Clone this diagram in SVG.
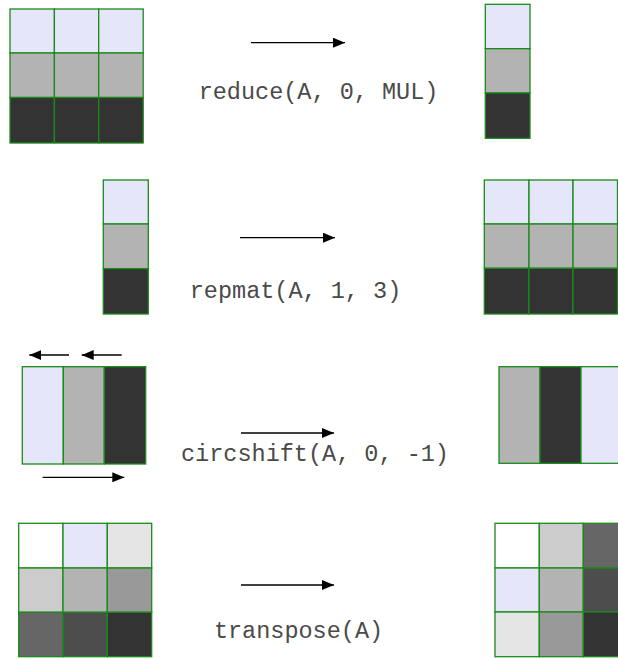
<svg xmlns="http://www.w3.org/2000/svg" width="618" height="658" viewBox="0 0 618 658">
<defs>
<style>
.c{stroke:#1a8a1a;stroke-width:1.3}
.l{fill:#e6e6fa}.g{fill:#b3b3b3}.d{fill:#333333}
.w{fill:#ffffff}.e5{fill:#e5e5e5}.cc{fill:#cccccc}.n9{fill:#999999}.s6{fill:#666666}.s4{fill:#4d4d4d}
.a{stroke:#000;stroke-width:1.3;fill:none}
.t{font-family:"Liberation Mono","Courier New",monospace;font-size:23.5px;fill:#4a4a4a;text-anchor:middle}
</style>
<marker id="ah" viewBox="0 0 12 10" refX="12" refY="5" markerWidth="12" markerHeight="10" markerUnits="userSpaceOnUse" orient="auto">
<path d="M0,0 L12,5 L0,10 Z" fill="#000"/>
</marker>
</defs>
<rect width="618" height="658" fill="#fff"/>

<g id="reduce-in">
<rect class="c l" x="10" y="9" width="44.4" height="44"/>
<rect class="c l" x="54.4" y="9" width="44.3" height="44"/>
<rect class="c l" x="98.7" y="9" width="44.5" height="44"/>
<rect class="c g" x="10" y="53" width="44.4" height="44.5"/>
<rect class="c g" x="54.4" y="53" width="44.3" height="44.5"/>
<rect class="c g" x="98.7" y="53" width="44.5" height="44.5"/>
<rect class="c d" x="10" y="97.5" width="44.4" height="45.5"/>
<rect class="c d" x="54.4" y="97.5" width="44.3" height="45.5"/>
<rect class="c d" x="98.7" y="97.5" width="44.5" height="45.5"/>
</g>
<g id="reduce-out">
<rect class="c l" x="485.3" y="4.3" width="44.7" height="44.4"/>
<rect class="c g" x="485.3" y="48.7" width="44.7" height="44.3"/>
<rect class="c d" x="485.3" y="93" width="44.7" height="45.3"/>
</g>

<g id="repmat-in">
<rect class="c l" x="103.3" y="180" width="45" height="44"/>
<rect class="c g" x="103.3" y="224" width="45" height="44.7"/>
<rect class="c d" x="103.3" y="268.7" width="45" height="45.3"/>
</g>
<g id="repmat-out">
<rect class="c l" x="484.3" y="180" width="44.7" height="44"/>
<rect class="c l" x="529" y="180" width="44" height="44"/>
<rect class="c l" x="573" y="180" width="44.5" height="44"/>
<rect class="c g" x="484.3" y="224" width="44.7" height="44.3"/>
<rect class="c g" x="529" y="224" width="44" height="44.3"/>
<rect class="c g" x="573" y="224" width="44.5" height="44.3"/>
<rect class="c d" x="484.3" y="268.3" width="44.7" height="45.7"/>
<rect class="c d" x="529" y="268.3" width="44" height="45.7"/>
<rect class="c d" x="573" y="268.3" width="44.5" height="45.7"/>
</g>

<g id="circshift-in">
<rect class="c l" x="22.3" y="366.7" width="41" height="97.3"/>
<rect class="c g" x="63.3" y="366.7" width="41" height="97.3"/>
<rect class="c d" x="104.3" y="366.7" width="41.4" height="97.3"/>
</g>
<g id="circshift-out">
<rect class="c g" x="499" y="366.7" width="41" height="96.6"/>
<rect class="c d" x="540" y="366.7" width="41" height="96.6"/>
<rect class="c l" x="581" y="366.7" width="41" height="96.6"/>
</g>

<g id="transpose-in">
<rect class="c w" x="18.7" y="523.3" width="44.3" height="44.7"/>
<rect class="c l" x="63" y="523.3" width="44.3" height="44.7"/>
<rect class="c e5" x="107.3" y="523.3" width="44.4" height="44.7"/>
<rect class="c cc" x="18.7" y="568" width="44.3" height="44.3"/>
<rect class="c g" x="63" y="568" width="44.3" height="44.3"/>
<rect class="c n9" x="107.3" y="568" width="44.4" height="44.3"/>
<rect class="c s6" x="18.7" y="612.3" width="44.3" height="44.4"/>
<rect class="c s4" x="63" y="612.3" width="44.3" height="44.4"/>
<rect class="c d" x="107.3" y="612.3" width="44.4" height="44.4"/>
</g>
<g id="transpose-out">
<rect class="c w" x="495" y="523.3" width="44.3" height="44.7"/>
<rect class="c cc" x="539.3" y="523.3" width="44" height="44.7"/>
<rect class="c s6" x="583.3" y="523.3" width="44" height="44.7"/>
<rect class="c l" x="495" y="568" width="44.3" height="44"/>
<rect class="c g" x="539.3" y="568" width="44" height="44"/>
<rect class="c s4" x="583.3" y="568" width="44" height="44"/>
<rect class="c e5" x="495" y="612" width="44.3" height="44.7"/>
<rect class="c n9" x="539.3" y="612" width="44" height="44.7"/>
<rect class="c d" x="583.3" y="612" width="44" height="44.7"/>
</g>

<g id="connectors">
<line class="a" x1="251" y1="42.7" x2="345" y2="42.7" marker-end="url(#ah)"/>
<line class="a" x1="240" y1="237.7" x2="335" y2="237.7" marker-end="url(#ah)"/>
<line class="a" x1="241" y1="433" x2="334" y2="433" marker-end="url(#ah)"/>
<line class="a" x1="241" y1="585" x2="334" y2="585" marker-end="url(#ah)"/>
<line class="a" x1="69" y1="355" x2="29.3" y2="355" marker-end="url(#ah)"/>
<line class="a" x1="121.7" y1="355" x2="81.7" y2="355" marker-end="url(#ah)"/>
<line class="a" x1="42.7" y1="477.3" x2="124.3" y2="477.3" marker-end="url(#ah)"/>
</g>

<g id="labels">
<text class="t" x="318.5" y="99">reduce(A, 0, MUL)</text>
<text class="t" x="295.5" y="298">repmat(A, 1, 3)</text>
<text class="t" x="315" y="461">circshift(A, 0, -1)</text>
<text class="t" x="298.5" y="638">transpose(A)</text>
</g>
</svg>
